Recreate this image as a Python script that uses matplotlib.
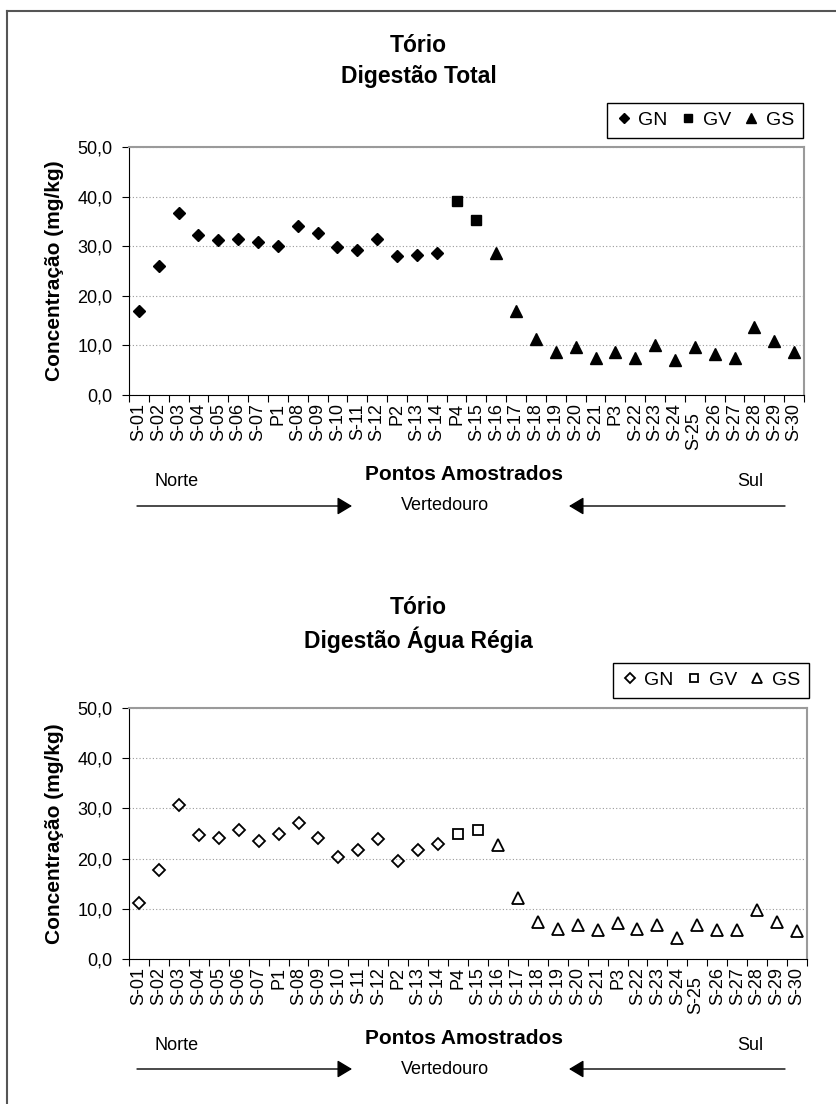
import matplotlib
matplotlib.use("Agg")
import matplotlib.pyplot as plt
from matplotlib.lines import Line2D
from matplotlib.patches import FancyArrowPatch
import matplotlib.transforms as mtransforms

plt.rcParams['font.family'] = ['Liberation Sans', 'DejaVu Sans']

# Pontos amostrados (Norte -> Sul)
pontos = ['S-01', 'S-02', 'S-03', 'S-04', 'S-05', 'S-06', 'S-07', 'P1', 'S-08',
          'S-09', 'S-10', 'S-11', 'S-12', 'P2', 'S-13', 'S-14', 'P4', 'S-15',
          'S-16', 'S-17', 'S-18', 'S-19', 'S-20', 'S-21', 'P3', 'S-22', 'S-23',
          'S-24', 'S-25', 'S-26', 'S-27', 'S-28', 'S-29', 'S-30']

# grupos: GN = pontos 0..15, GV = 16..17, GS = 18..33
gn_idx = list(range(0, 16))
gv_idx = [16, 17]
gs_idx = list(range(18, 34))

# Digestão Total (mg/kg)
total_gn = [17.0, 26.1, 36.6, 32.2, 31.2, 31.5, 30.8, 30.0, 34.1, 32.7, 29.8,
            29.3, 31.5, 28.0, 28.3, 28.6]
total_gv = [39.1, 35.2]
total_gs = [28.6, 17.0, 11.2, 8.7, 9.7, 7.5, 8.6, 7.5, 10.1, 7.1, 9.7, 8.3,
            7.5, 13.7, 10.9, 8.6]

# Digestão Água Régia (mg/kg)
regia_gn = [11.1, 17.8, 30.7, 24.7, 24.2, 25.7, 23.5, 25.0, 27.1, 24.2, 20.3,
            21.8, 23.9, 19.6, 21.8, 22.9]
regia_gv = [25.0, 25.7]
regia_gs = [22.7, 12.1, 7.4, 6.0, 6.8, 5.7, 7.1, 6.0, 6.8, 4.2, 6.8, 5.7,
            5.7, 9.7, 7.4, 5.6]

yticks = [0, 10, 20, 30, 40, 50]
ytick_labels = ['0,0', '10,0', '20,0', '30,0', '40,0', '50,0']

W, H = 837, 1104
fig = plt.figure(figsize=(W / 100, H / 100), dpi=100)


def fx(px):
    return px / W


def fy(py):
    return 1 - py / H


def painel(top, bottom, right, gn, gv, gs, cheio, titulo, leg_box, dy):
    ax = fig.add_axes([fx(129), fy(bottom), fx(right - 129), fy(top) - fy(bottom)])
    if cheio:
        st = dict(color='black', mec='black')
    else:
        st = dict(color='none', mec='black', mew=1.3)
    ax.plot(gn_idx, gn, 'D', ms=6.2, ls='none', label='GN', **st)
    ax.plot(gv_idx, gv, 's', ms=7.5, ls='none', label='GV', **st)
    ax.plot(gs_idx, gs, '^', ms=9, ls='none', label='GS', **st)

    ax.set_xlim(-0.5, len(pontos) - 0.5)
    ax.set_ylim(0, 50)
    ax.set_yticks(yticks)
    ax.set_yticklabels(ytick_labels, fontsize=13)
    ax.tick_params(axis='y', direction='out', length=5, pad=7)
    ax.yaxis.grid(True, color='#9a9a9a', ls=(0, (1, 2)), lw=0.8)
    ax.set_axisbelow(True)

    # ticks nos limites das categorias, rótulos no centro
    ax.set_xticks([i - 0.5 for i in range(len(pontos) + 1)])
    ax.set_xticklabels([])
    ax.set_xticks(range(len(pontos)), minor=True)
    ax.set_xticklabels(pontos, minor=True, rotation=90, fontsize=13,
                       va='top', ha='center')
    ax.tick_params(axis='x', which='major', direction='out', length=5)
    ax.tick_params(axis='x', which='minor', length=0, pad=6)
    lab = ax.get_xticklabels(minor=True)[pontos.index('S-25')]
    lab.set_transform(lab.get_transform() + mtransforms.ScaledTranslation(
        -1 / 72, -6 / 72, fig.dpi_scale_trans))

    for s in ['top', 'right']:
        ax.spines[s].set_color('#9a9a9a')
        ax.spines[s].set_linewidth(1.5)
    ax.spines['left'].set_color('black')
    ax.spines['bottom'].set_color('black')

    ax.set_ylabel('Concentração (mg/kg)', fontsize=15, fontweight='bold')
    ax.yaxis.set_label_coords(fx(64 - 129) / fx(right - 129), 0.5)

    fig.text(0.5, fy(45 + dy), 'Tório', ha='center', va='center',
             fontsize=16.5, fontweight='bold')
    fig.text(0.5, fy(77 + dy), titulo, ha='center', va='center',
             fontsize=16.5, fontweight='bold')

    x0, y0, x1, y1 = leg_box
    ax.legend(loc='lower right', bbox_to_anchor=(fx(x1), fy(y1)),
              bbox_transform=fig.transFigure, ncol=3, fontsize=14,
              frameon=True, fancybox=False, framealpha=1, edgecolor='black',
              handlelength=0.8, handletextpad=0.35, columnspacing=0.65,
              borderpad=0.45, borderaxespad=0, markerscale=0.85)

    fig.text(fx(464), fy(475 + dy), 'Pontos Amostrados', ha='center',
             va='center', fontsize=15, fontweight='bold')
    fig.text(fx(177), fy(482 + dy), 'Norte', ha='center', va='center',
             fontsize=13)
    fig.text(fx(750), fy(482 + dy), 'Sul', ha='center', va='center',
             fontsize=13)
    fig.text(fx(445), fy(506 + dy), 'Vertedouro', ha='center', va='center',
             fontsize=13)
    for a, b in [(137, 352), (785, 569)]:
        fig.add_artist(FancyArrowPatch(
            (fx(a), fy(506 + dy)), (fx(b), fy(506 + dy)),
            transform=fig.transFigure, color='black', lw=1,
            arrowstyle='-|>,head_length=0.5,head_width=0.3',
            mutation_scale=18, shrinkA=0, shrinkB=0))
    return ax


painel(147, 395, 804, total_gn, total_gv, total_gs, True,
       'Digestão Total', (610, 97, 803, 138), 0)
painel(708, 959, 807, regia_gn, regia_gv, regia_gs, False,
       'Digestão Água Régia', (617, 657, 809, 698), 563)

# moldura externa (só esquerda e topo visíveis)
fig.add_artist(Line2D([fx(7), fx(7)], [fy(11), 0], color='#555555', lw=1.5,
                      transform=fig.transFigure))
fig.add_artist(Line2D([fx(7), 1], [fy(11), fy(11)], color='#555555', lw=1.5,
                      transform=fig.transFigure))

fig.savefig('out.png', dpi=100)
